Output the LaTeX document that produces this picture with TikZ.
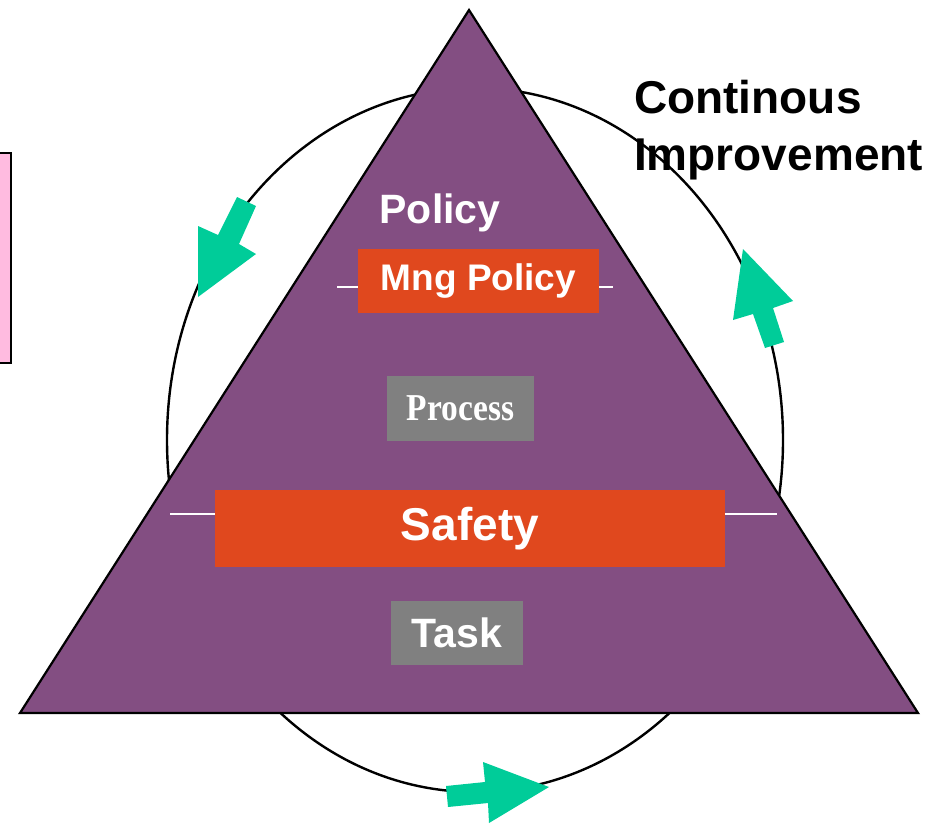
\documentclass[tikz,border=0pt]{standalone}
\usepackage{fontspec}
\setmainfont{Liberation Sans}
\newfontfamily\procfont{Liberation Serif}
\definecolor{tripurple}{HTML}{834E82}
\definecolor{boxorange}{HTML}{E0481E}
\definecolor{arrgreen}{HTML}{00CC99}
\definecolor{boxgrey}{HTML}{808080}
\definecolor{pinkfill}{HTML}{FFBBE0}
\tikzset{
  lvlbox/.style={rectangle, inner sep=0pt, text=white, font=\bfseries},
  orangebox/.style={lvlbox, fill=boxorange},
  greybox/.style={lvlbox, fill=boxgrey},
  whiteline/.style={draw=white, line width=2.5pt},
  bluearrow/.style={fill=arrgreen, draw=none},
}
\begin{document}
\begin{tikzpicture}[x=1pt,y=-1pt]
\useasboundingbox (0,0) rectangle (947,823);
% pink box at left edge
\draw[fill=pinkfill, draw=black, line width=2pt] (-5,153) rectangle (11,363);
% cycle ellipse
\draw[line width=2.4pt] (475,440) ellipse [x radius=308, y radius=352];
% triangle
\coordinate (apex) at (469,10);
\coordinate (bl) at (20,713);
\coordinate (br) at (918,713);
\draw[fill=tripurple, line width=2.2pt, line join=miter] (apex) -- (bl) -- (br) -- cycle;
% arrows
\fill[bluearrow] (237,197) -- (256,206) -- (239,244) -- (256,254) -- (198,297) -- (198,226) -- (218,235) -- cycle;
\fill[bluearrow] (765,348) -- (784,342) -- (773,308) -- (793,301) -- (743,249) -- (733,320) -- (753,314) -- cycle;
\fill[bluearrow] (446,786) -- (448,807) -- (488,803) -- (489,823) -- (549,787) -- (483,762) -- (485,782) -- cycle;
% labels
\node[text=white, font=\bfseries\fontsize{41}{49}\selectfont, anchor=center] (policy) at (440,213) {Policy};
\node[orangebox, minimum width=241pt, minimum height=64pt, font=\bfseries\fontsize{37}{44}\selectfont] (mng) at (478.5,281) {Mng Policy};
\node[greybox, minimum width=147pt, minimum height=65pt] (proc) at (460.5,408.5) {\procfont\bfseries\fontsize{38}{44}\selectfont\scalebox{0.88}[1]{Process}};
\node[orangebox, minimum width=510pt, minimum height=77pt, font=\bfseries\fontsize{46}{54}\selectfont] (safety) at (470,528.5) {Safety};
\node[greybox, minimum width=132pt, minimum height=64pt, font=\bfseries\fontsize{41}{49}\selectfont] (task) at (457,633) {Task};
% white tick lines
\coordinate (mngL) at (337,287);
\coordinate (mngR) at (613,287);
\coordinate (safL) at (170,514);
\coordinate (safR) at (777,514);
\draw[whiteline] (mngL) -- (mng.west |- mngL);
\draw[whiteline] (mng.east |- mngR) -- (mngR);
\draw[whiteline] (safL) -- (safety.west |- safL);
\draw[whiteline] (safety.east |- safR) -- (safR);
% title
\node[anchor=base west, inner sep=0pt, font=\bfseries\fontsize{46}{57}\selectfont, align=left] (title) at (634,170) {Continous\\Improvement};
\end{tikzpicture}
\end{document}
